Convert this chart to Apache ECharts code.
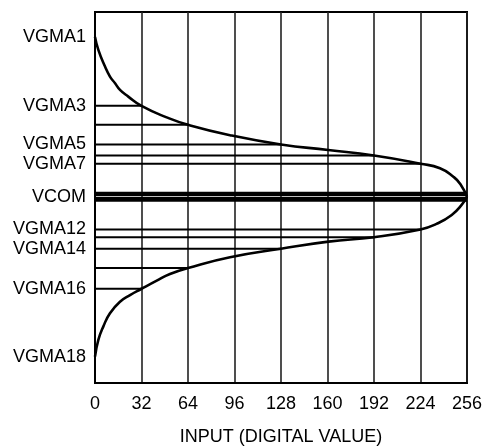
<!DOCTYPE html>
<html>
<head>
<meta charset="utf-8">
<script src="https://cdn.jsdelivr.net/npm/echarts@6/dist/echarts.min.js"></script>
<style>
html,body{margin:0;padding:0;background:#fff;}
#chart{width:484px;height:447px;}
</style>
</head>
<body>
<div id="chart"></div>
<script>
// X axis (digital input)
var xTicks = [0, 32, 64, 96, 128, 160, 192, 224, 256];

// Y labels (gamma reference voltages)
var labelNames  = ['VGMA1', 'VGMA3', 'VGMA5', 'VGMA7', 'VCOM', 'VGMA12', 'VGMA14', 'VGMA16', 'VGMA18'];
var labelValues = [93.3, 74.7, 64.3, 59.1, 50.2, 41.4, 36.2, 25.4, 7.1];

// Horizontal reference levels and the input value where each meets the curve
var levelValues = [74.7, 69.6, 64.3, 61.3, 59.1, 41.4, 39.3, 36.2, 31.0, 25.4];
var levelEnds   = [32, 64, 128, 192, 224, 224, 192, 128, 64, 32];

// VCOM band lines (full width)
var vcomValues = [50.95, 49.5];
var vcomEnd = 256;

// Upper (positive polarity) gamma curve
var upperX = [0, 2.3, 6.9, 10.3, 13.8, 17.2, 22.9, 32, 49.3, 64, 92.9, 128, 160.5, 192, 224, 237.4, 246.6, 251.5, 256];
var upperY = [93.3, 89.8, 85.3, 82.6, 80.8, 79.0, 77.2, 74.7, 71.6, 69.6, 66.8, 64.3, 62.8, 61.3, 59.1, 57.9, 55.6, 53.6, 50.2];

// Lower (negative polarity) gamma curve
var lowerX = [0, 2.3, 5.7, 10.3, 17.2, 24.1, 32, 42.5, 51.6, 64, 92.9, 128, 160.7, 192, 224, 235.1, 245.5, 252.3, 256];
var lowerY = [7.1, 11.6, 15.2, 18.8, 21.9, 23.7, 25.4, 27.6, 29.4, 31.0, 33.9, 36.2, 38.1, 39.3, 41.4, 42.9, 45.3, 48.0, 50.2];

var FONT = '"Liberation Sans", Arial, Helvetica, sans-serif';

function zip(xs, ys) { return xs.map(function (x, i) { return [x, ys[i]]; }); }

var series = [];
levelValues.forEach(function (v, i) {
  series.push({
    type: 'line', data: [[0, v], [levelEnds[i], v]],
    symbol: 'none', silent: true,
    lineStyle: { color: '#000', width: 2 }, z: 3
  });
});
vcomValues.forEach(function (v) {
  series.push({
    type: 'line', data: [[0, v], [vcomEnd, v]],
    symbol: 'none', silent: true,
    lineStyle: { color: '#000', width: 4.6 }, z: 3
  });
});
series.push({
  type: 'line', data: zip(upperX, upperY), symbol: 'none', smooth: 0.5,
  lineStyle: { color: '#000', width: 2.6 }, z: 4
});
series.push({
  type: 'line', data: zip(lowerX, lowerY), symbol: 'none', smooth: 0.5,
  lineStyle: { color: '#000', width: 2.6 }, z: 4
});

var chart = echarts.init(document.getElementById('chart'), null, { renderer: 'canvas' });
chart.setOption({
  animation: false,
  backgroundColor: '#fff',
  grid: { left: 95, right: 17, top: 12, bottom: 64, show: true, borderColor: '#000', borderWidth: 2,
          containLabel: false, outerBoundsMode: 'none' },
  xAxis: {
    type: 'value', min: 0, max: 256, interval: 32,
    name: 'INPUT (DIGITAL VALUE)', nameLocation: 'middle', nameGap: 45,
    nameTextStyle: { fontFamily: FONT, fontSize: 18, color: '#000' },
    axisLine: { show: true, lineStyle: { color: '#000', width: 2 } },
    axisTick: { show: false },
    axisLabel: { fontFamily: FONT, fontSize: 18, color: '#000', margin: 12,
      formatter: function (v) { return xTicks.indexOf(v) >= 0 ? String(v) : ''; } },
    splitLine: { show: true, lineStyle: { color: '#222', width: 1.6 } }
  },
  yAxis: {
    type: 'value', min: 0, max: 100,
    axisLine: { show: true, lineStyle: { color: '#000', width: 2 } },
    axisTick: { show: false },
    splitLine: { show: false },
    axisLabel: {
      show: true, customValues: labelValues,
      fontFamily: FONT, fontSize: 18, color: '#000', margin: 9,
      formatter: function (v) {
        var i = labelValues.indexOf(v);
        return i >= 0 ? labelNames[i] : '';
      }
    }
  },
  series: series
});
</script>
</body>
</html>
